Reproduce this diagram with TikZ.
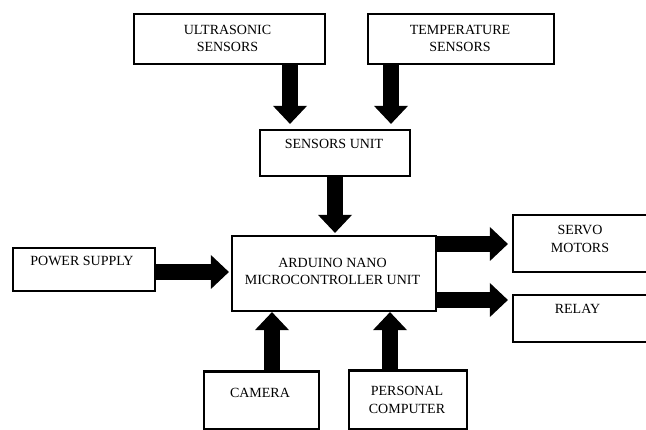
\documentclass[tikz,border=0pt]{standalone}
\usepackage{fontspec}
\setmainfont{Liberation Serif}
\usetikzlibrary{arrows.meta,calc}
\begin{document}
\begin{tikzpicture}[x=1pt,y=-1pt,
  box/.style={draw,line width=2.2pt,rectangle,inner sep=0pt},
  lbl/.style={align=center,inner sep=0pt,font=\fontsize{14}{17.5}\selectfont},
  blk/.style={line width=16pt,-{Triangle[width=34pt,length=18pt,line width=0pt]}}]
\useasboundingbox (0,0) rectangle (646,430);
\clip (0,0) rectangle (646,430);
% boxes
\node[box,minimum width=191pt,minimum height=50pt] (ultra) at (229.5,39) {};
\node[box,minimum width=186pt,minimum height=50pt] (temp) at (461,39) {};
\node[box,minimum width=150pt,minimum height=46pt] (su) at (335,153) {};
\node[box,minimum width=204pt,minimum height=75pt] (ard) at (334,273.5) {};
\node[box,minimum width=142pt,minimum height=43pt] (ps) at (84,269.5) {};
\node[box,minimum width=140pt,minimum height=57pt] (servo) at (583,243.5) {};
\node[box,minimum width=140pt,minimum height=47pt] (relay) at (583,318.5) {};
\node[box,minimum width=115pt,minimum height=58pt] (cam) at (261.5,400.5) {};
\node[box,minimum width=118pt,minimum height=59pt] (pc) at (408,400) {};
% labels
\node[lbl] (tultra) at (227.5,38.5) {ULTRASONIC\\SENSORS};
\node[lbl] (ttemp) at (460,38.5) {TEMPERATURE\\SENSORS};
\node[lbl] (tsu) at (334,144) {SENSORS UNIT};
\node[lbl] (tps) at (82,261) {POWER SUPPLY};
\node[lbl] (tard) at (332.5,271.5) {ARDUINO NANO\\MICROCONTROLLER UNIT};
\node[lbl] (tservo) at (580,239) {SERVO\\MOTORS};
\node[lbl] (trelay) at (577.5,309) {RELAY};
\node[lbl] (tcam) at (260,393) {CAMERA};
\node[lbl] (tpc) at (407,400) {PERSONAL\\COMPUTER};
% arrow start points
\coordinate (a1) at ([xshift=60.5pt]ultra.south);
\coordinate (a2) at ([xshift=-70pt]temp.south);
\coordinate (a3) at (su.south);
\coordinate (a4) at ([yshift=-2.5pt]ps.east);
\coordinate (a5) at ([yshift=29.5pt]ard.east);
\coordinate (a6) at ([yshift=-26.5pt]ard.east);
\coordinate (a7) at ([xshift=10.5pt]cam.north);
\coordinate (a8) at ([xshift=-18pt]pc.north);
% arrows
\draw[blk,shorten >=5pt] (a1) -- (a1 |- su.north);
\draw[blk,shorten >=5pt] (a2) -- (a2 |- su.north);
\draw[blk,shorten >=2pt] (a3) -- (a3 |- ard.north);
\draw[blk,shorten >=2pt] (a4) -- (a4 -| ard.west);
\draw[blk,shorten >=4pt] (a5) -- (a5 -| servo.west);
\draw[blk,shorten >=4pt] (a6) -- (a6 -| relay.west);
\draw[blk] (a7) -- (a7 |- ard.south);
\draw[blk] (a8) -- (a8 |- ard.south);
\end{tikzpicture}
\end{document}
